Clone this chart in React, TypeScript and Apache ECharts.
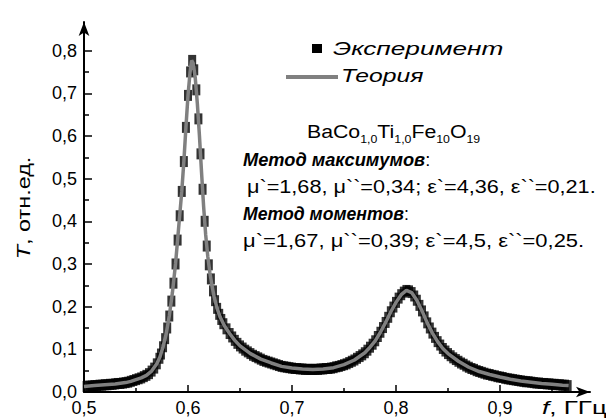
import React, { useEffect, useRef } from "react";
import * as echarts from "echarts";

// Theory curve (frequency, GHz / transmission)
const theoryF = [
  0.5, 0.51, 0.52, 0.53, 0.54, 0.545, 0.55, 0.555, 0.56, 0.565, 0.57, 0.573, 0.576, 0.579,
  0.582, 0.585, 0.588, 0.591, 0.594, 0.596, 0.598, 0.6, 0.602, 0.6035, 0.605, 0.607, 0.609,
  0.611, 0.613, 0.615, 0.617, 0.619, 0.621, 0.623, 0.625, 0.628, 0.631, 0.635, 0.64, 0.645,
  0.65, 0.66, 0.67, 0.68, 0.69, 0.7, 0.71, 0.72, 0.73, 0.74, 0.75, 0.76, 0.77, 0.775, 0.78,
  0.785, 0.79, 0.795, 0.8, 0.805, 0.81, 0.815, 0.82, 0.825, 0.83, 0.835, 0.84, 0.845, 0.85,
  0.86, 0.87, 0.88, 0.89, 0.9, 0.91, 0.92, 0.93, 0.94, 0.95, 0.96, 0.966,
];
const theoryT = [
  0.013, 0.015, 0.017, 0.019, 0.022, 0.025, 0.029, 0.033, 0.039, 0.049, 0.066, 0.082, 0.106, 0.136,
  0.178, 0.233, 0.3, 0.385, 0.47, 0.54, 0.62, 0.695, 0.75, 0.777, 0.77, 0.735, 0.675,
  0.6, 0.515, 0.435, 0.368, 0.318, 0.28, 0.25, 0.224, 0.196, 0.175, 0.155, 0.137, 0.121,
  0.108, 0.09, 0.077, 0.068, 0.06, 0.056, 0.054, 0.053, 0.054, 0.057, 0.064, 0.075, 0.092, 0.105, 0.12,
  0.14, 0.163, 0.188, 0.21, 0.228, 0.238, 0.233, 0.215, 0.19, 0.162, 0.138, 0.118, 0.102, 0.09,
  0.072, 0.058, 0.048, 0.041, 0.035, 0.03, 0.026, 0.023, 0.02, 0.018, 0.016, 0.015,
];

// Experiment points
const expF = [
  0.5025, 0.505, 0.5075, 0.51, 0.5125, 0.515, 0.5175, 0.52, 0.5225, 0.525, 0.5275, 0.53, 0.5325,
  0.535, 0.5375, 0.54, 0.5425, 0.545, 0.5475, 0.55, 0.5525, 0.555, 0.5575, 0.56, 0.5625, 0.565,
  0.5675, 0.57, 0.5725, 0.574,
  0.576, 0.578, 0.58, 0.582, 0.584, 0.586, 0.588, 0.59, 0.592, 0.594, 0.596, 0.598, 0.6, 0.602,
  0.604, 0.606, 0.608, 0.61, 0.612, 0.614, 0.616, 0.618, 0.62, 0.622, 0.624, 0.626, 0.628, 0.63,
  0.632, 0.634, 0.637,
  0.64, 0.6425, 0.645, 0.6475, 0.65, 0.6525, 0.655, 0.6575, 0.66, 0.6625, 0.665, 0.6675, 0.67,
  0.6725, 0.675, 0.6775, 0.68, 0.6825, 0.685, 0.6875, 0.69, 0.6925, 0.695, 0.6975, 0.7, 0.7025,
  0.705, 0.7075, 0.71, 0.7125, 0.715, 0.7175, 0.72, 0.7225, 0.725, 0.7275, 0.73, 0.7325, 0.735,
  0.7375, 0.74, 0.7425, 0.745, 0.7475, 0.75, 0.7525, 0.755, 0.7575, 0.76,
  0.7625, 0.765, 0.7675, 0.77, 0.7725, 0.775, 0.7775, 0.78, 0.7825, 0.785, 0.7875, 0.79, 0.7925,
  0.795, 0.7975, 0.8, 0.8025, 0.805, 0.8075, 0.81, 0.8125, 0.815, 0.8175, 0.82, 0.8225, 0.825,
  0.8275, 0.83, 0.8325, 0.835, 0.8375, 0.84, 0.8425, 0.845, 0.8475, 0.85, 0.8525, 0.855, 0.8575,
  0.86, 0.8625, 0.865, 0.8675, 0.87, 0.8725, 0.875, 0.8775, 0.88, 0.8825, 0.885, 0.8875, 0.89,
  0.8925, 0.895, 0.8975, 0.9, 0.9025, 0.905, 0.9075, 0.91, 0.9125, 0.915, 0.9175, 0.92, 0.9225,
  0.925, 0.9275, 0.93, 0.9325, 0.935, 0.9375, 0.94, 0.9425, 0.945, 0.9475, 0.95, 0.9525, 0.955,
  0.9575, 0.96, 0.9625, 0.965,
];
const expT = [
  0.013, 0.014, 0.014, 0.015, 0.015, 0.016, 0.016, 0.017, 0.017, 0.018, 0.018, 0.019, 0.02,
  0.02, 0.021, 0.022, 0.023, 0.025, 0.027, 0.029, 0.031, 0.033, 0.036, 0.039, 0.043, 0.049,
  0.056, 0.066, 0.079, 0.089,
  0.106, 0.125, 0.15, 0.178, 0.213, 0.255, 0.3, 0.356, 0.413, 0.47, 0.54, 0.62, 0.695, 0.75,
  0.777, 0.755, 0.708, 0.64, 0.558, 0.475, 0.4, 0.342, 0.298, 0.265, 0.237, 0.214, 0.196, 0.182,
  0.17, 0.16, 0.148,
  0.137, 0.129, 0.121, 0.114, 0.108, 0.103, 0.098, 0.094, 0.09, 0.086, 0.083, 0.08, 0.077,
  0.074, 0.072, 0.07, 0.068, 0.066, 0.064, 0.062, 0.06, 0.059, 0.058, 0.057, 0.056, 0.055,
  0.055, 0.054, 0.054, 0.053, 0.053, 0.053, 0.053, 0.053, 0.053, 0.054, 0.054, 0.055, 0.055,
  0.056, 0.057, 0.059, 0.06, 0.062, 0.064, 0.066, 0.069, 0.072, 0.075,
  0.079, 0.083, 0.087, 0.092, 0.098, 0.105, 0.112, 0.12, 0.13, 0.14, 0.151, 0.163, 0.175,
  0.188, 0.199, 0.21, 0.22, 0.228, 0.234, 0.238, 0.237, 0.233, 0.225, 0.215, 0.203, 0.19,
  0.176, 0.162, 0.15, 0.138, 0.128, 0.118, 0.11, 0.102, 0.096, 0.09, 0.085, 0.08, 0.076,
  0.072, 0.068, 0.065, 0.061, 0.058, 0.055, 0.053, 0.05, 0.048, 0.046, 0.044, 0.042, 0.041,
  0.039, 0.038, 0.036, 0.035, 0.034, 0.032, 0.031, 0.03, 0.029, 0.028, 0.027, 0.026, 0.025,
  0.024, 0.024, 0.023, 0.022, 0.021, 0.021, 0.02, 0.02, 0.019, 0.019, 0.018, 0.018, 0.017,
  0.017, 0.016, 0.016, 0.015,
];

const xTicks = [0.5, 0.6, 0.7, 0.8, 0.9];
const xMinorTicks = [0.55, 0.65, 0.75, 0.85, 0.95];
const yTicks = [0, 0.1, 0.2, 0.3, 0.4, 0.5, 0.6, 0.7, 0.8];
const yMinorTicks = [0.05, 0.15, 0.25, 0.35, 0.45, 0.55, 0.65, 0.75];

const FONT = '"Liberation Sans", Arial, sans-serif';
const fmt = (v: number) => v.toFixed(1).replace(".", ",");

const TA = { align: "left", verticalAlign: "middle", textAlign: "left", textVerticalAlign: "middle" };

export default function App() {
  const ref = useRef<HTMLDivElement>(null);
  useEffect(() => {
    if (!ref.current) return;
    const chart = echarts.init(ref.current, null, { renderer: "svg" });
    const axisCommon = { type: "value" as const, splitLine: { show: false } };
    const lineStyle = { color: "#000", width: 2 };
    const tickStyle = { color: "#000", width: 1.5 };
    chart.setOption({
      animation: false,
      backgroundColor: "#fff",
      grid: { left: 84, right: 16, top: 22, bottom: 26 },
      xAxis: [
        {
          ...axisCommon,
          min: 0.5,
          max: 0.9865,
          position: "bottom",
          axisLine: { onZero: false, lineStyle, symbol: ["none", "arrow"], symbolSize: [8, 14] },
          axisTick: { inside: true, length: 7, customValues: xTicks, lineStyle: tickStyle },
          axisLabel: { customValues: xTicks, formatter: fmt, fontSize: 18, color: "#000", fontFamily: FONT, margin: 7 },
        },
        {
          ...axisCommon,
          min: 0.5,
          max: 0.9865,
          position: "bottom",
          axisLine: { show: false, onZero: false },
          axisTick: { inside: true, length: 4, customValues: xMinorTicks, lineStyle: tickStyle },
          axisLabel: { show: false },
        },
      ],
      yAxis: [
        {
          ...axisCommon,
          min: 0,
          max: 0.867,
          position: "left",
          axisLine: { onZero: false, lineStyle, symbol: ["none", "arrow"], symbolSize: [8, 14] },
          axisTick: { inside: true, length: 8, customValues: yTicks, lineStyle: tickStyle },
          axisLabel: { customValues: yTicks, formatter: fmt, fontSize: 18, color: "#000", fontFamily: FONT, margin: 7 },
        },
        {
          ...axisCommon,
          min: 0,
          max: 0.867,
          position: "left",
          axisLine: { show: false, onZero: false },
          axisTick: { inside: true, length: 5, customValues: yMinorTicks, lineStyle: tickStyle },
          axisLabel: { show: false },
        },
      ],
      series: [
        {
          name: "Эксперимент",
          type: "scatter",
          xAxisIndex: 0,
          yAxisIndex: 0,
          symbol: "rect",
          symbolSize: [8, 11],
          itemStyle: { color: "#000" },
          z: 2,
          data: expF.map((f, i) => [f, expT[i]]),
        },
        {
          name: "Теория",
          type: "line",
          xAxisIndex: 0,
          yAxisIndex: 0,
          showSymbol: false,
          symbol: "none",
          lineStyle: { color: "#808080", width: 3.5 },
          z: 3,
          data: theoryF.map((f, i) => [f, theoryT[i]]),
        },
      ],
      graphic: [
        // legend
        { type: "rect", shape: { x: 312, y: 44, width: 10, height: 9 }, style: { fill: "#000" } },
        {
          type: "text", x: 333, y: 48, scaleX: 1.38,
          style: { text: "Эксперимент", fontSize: 19, fontStyle: "italic", fontFamily: FONT, fill: "#000", ...TA },
        },
        { type: "line", shape: { x1: 286, y1: 77, x2: 338, y2: 77 }, style: { stroke: "#808080", lineWidth: 4 } },
        {
          type: "text", x: 341, y: 76, scaleX: 1.3,
          style: { text: "Теория", fontSize: 19, fontStyle: "italic", fontFamily: FONT, fill: "#000", ...TA },
        },
        // formula
        {
          type: "text", x: 307, y: 131, scaleX: 1.12,
          style: {
            text: "{n|BaCo}{s|1,0}{n|Ti}{s|1,0}{n|Fe}{s|10}{n|O}{s|19}",
            ...TA,
            rich: {
              n: { fontSize: 19, fontFamily: FONT, fill: "#000", lineHeight: 26, verticalAlign: "middle" },
              s: { fontSize: 11, fontFamily: FONT, fill: "#000", lineHeight: 11, verticalAlign: "bottom" },
            },
          },
        },
        {
          type: "text", x: 243, y: 159, scaleX: 0.96,
          style: {
            text: "{b|Метод максимумов}{n|:}",
            ...TA,
            rich: {
              b: { fontSize: 19, fontFamily: FONT, fontStyle: "italic", fontWeight: "bold", fill: "#000" },
              n: { fontSize: 19, fontFamily: FONT, fill: "#000" },
            },
          },
        },
        {
          type: "text", x: 247, y: 186, scaleX: 1.14,
          style: { text: "μ`=1,68, μ``=0,34; ε`=4,36, ε``=0,21.", fontSize: 19, fontFamily: FONT, fill: "#000", ...TA },
        },
        {
          type: "text", x: 243, y: 213, scaleX: 0.93,
          style: {
            text: "{b|Метод моментов}{n|:}",
            ...TA,
            rich: {
              b: { fontSize: 19, fontFamily: FONT, fontStyle: "italic", fontWeight: "bold", fill: "#000" },
              n: { fontSize: 19, fontFamily: FONT, fill: "#000" },
            },
          },
        },
        {
          type: "text", x: 243, y: 240, scaleX: 1.155,
          style: { text: "μ`=1,67, μ``=0,39; ε`=4,5, ε``=0,25.", fontSize: 19, fontFamily: FONT, fill: "#000", ...TA },
        },
        // axis names
        {
          type: "text", x: 24, y: 208, rotation: Math.PI / 2, scaleX: 1.3,
          style: {
            text: "{i|T}{n|, отн.ед.}",
            align: "center", verticalAlign: "middle", textAlign: "center", textVerticalAlign: "middle",
            rich: {
              i: { fontSize: 18, fontFamily: FONT, fontStyle: "italic", fill: "#000" },
              n: { fontSize: 18, fontFamily: FONT, fill: "#000" },
            },
          },
        },
        {
          type: "text", x: 542, y: 408, scaleX: 1.45,
          style: {
            text: "{i|f}{n|, ГГц}",
            ...TA,
            rich: {
              i: { fontSize: 18, fontFamily: FONT, fontStyle: "italic", fill: "#000" },
              n: { fontSize: 18, fontFamily: FONT, fill: "#000" },
            },
          },
        },
      ],
    });
    return () => chart.dispose();
  }, []);
  return (
    <div
      ref={ref}
      style={{ position: "fixed", left: 0, top: 0, width: 606, height: 418, background: "#fff" }}
    />
  );
}
